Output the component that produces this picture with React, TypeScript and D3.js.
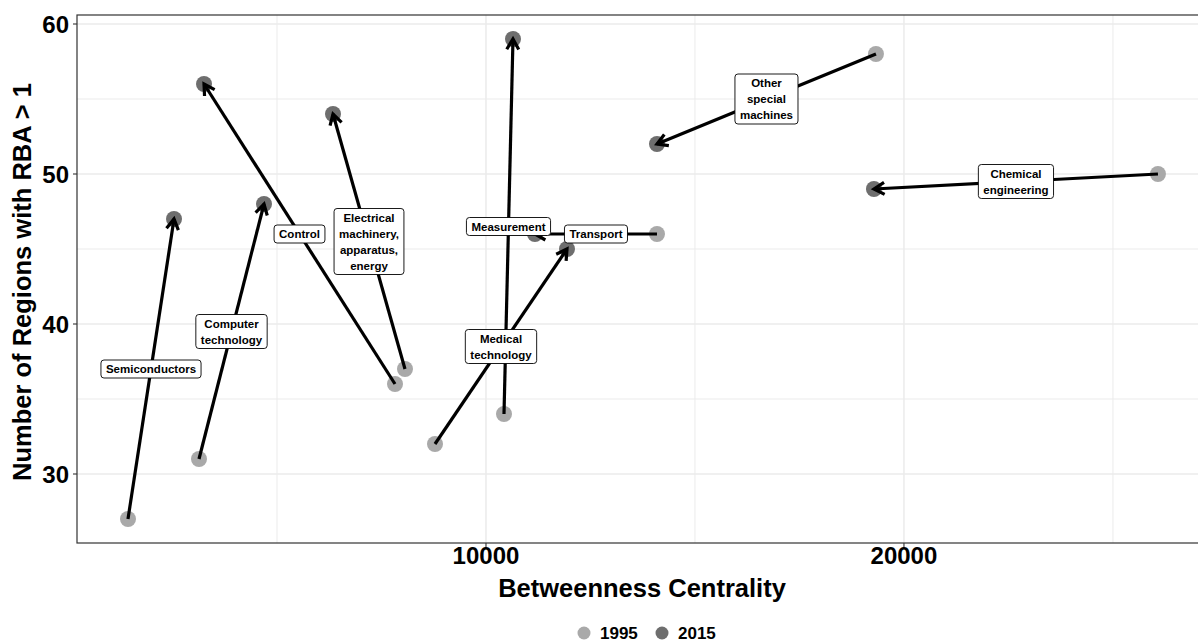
import React from "react";
import * as d3 from "d3";

const categories = [
  "Semiconductors",
  "Computer\ntechnology",
  "Control",
  "Electrical\nmachinery,\napparatus,\nenergy",
  "Medical\ntechnology",
  "Measurement",
  "Transport",
  "Other\nspecial\nmachines",
  "Chemical\nengineering",
];
const bc1995 = [1435, 3134, 7823, 8062, 8780, 10431, 14091, 19330, 26077];
const rba1995 = [27, 31, 36, 37, 32, 34, 46, 58, 50];
const bc2015 = [2536, 4689, 3254, 6340, 11938, 10646, 11172, 14091, 19282];
const rba2015 = [47, 48, 56, 54, 45, 59, 46, 52, 49];
const xTicks = [10000, 20000];
const xMinor = [5000, 15000, 25000];
const yTicks = [30, 40, 50, 60];
const yMinor = [35, 45, 55];
const years = ["1995", "2015"];

const W = 1198;
const H = 641;
const L = 77, R = 1198, T = 15, B = 543;
const C1995 = "#a9a9a9";
const C2015 = "#6e6e6e";
const FONT = "'Liberation Sans', Arial, Helvetica, sans-serif";

let ctx: CanvasRenderingContext2D | null = null;
function measure(t: string, font: string) {
  if (!ctx) ctx = document.createElement("canvas").getContext("2d");
  if (!ctx) return t.length * 6.5;
  ctx.font = font;
  return ctx.measureText(t).width;
}

export default function App() {
  const x = d3.scaleLinear().domain([215, 27035]).range([L, R]);
  const y = d3.scaleLinear().domain([25.4, 60.6]).range([B, T]);
  const labelFont = `bold 11.5px ${FONT}`;

  const items = categories.map((c, i) => ({
    label: c,
    x0: x(bc1995[i]),
    y0: y(rba1995[i]),
    x1: x(bc2015[i]),
    y1: y(rba2015[i]),
  }));

  const arrowHead = (x0: number, y0: number, x1: number, y1: number) => {
    const a = Math.atan2(y1 - y0, x1 - x0);
    const len = 12;
    const da = Math.PI / 6;
    const p1 = [x1 - len * Math.cos(a - da), y1 - len * Math.sin(a - da)];
    const p2 = [x1 - len * Math.cos(a + da), y1 - len * Math.sin(a + da)];
    return `M${p1[0]},${p1[1]}L${x1},${y1}L${p2[0]},${p2[1]}`;
  };

  return (
    <svg width={W} height={H} style={{ display: "block", position: "absolute", left: 0, top: 0 }}>
      <rect x={0} y={0} width={W} height={H} fill="white" />
      {/* grid */}
      {xMinor.map((v) => (
        <line key={"xm" + v} x1={x(v)} x2={x(v)} y1={T} y2={B} stroke="#ebebeb" strokeWidth={1} />
      ))}
      {yMinor.map((v) => (
        <line key={"ym" + v} x1={L} x2={R} y1={y(v)} y2={y(v)} stroke="#ebebeb" strokeWidth={1} />
      ))}
      {xTicks.map((v) => (
        <line key={"xg" + v} x1={x(v)} x2={x(v)} y1={T} y2={B} stroke="#ebebeb" strokeWidth={1.5} />
      ))}
      {yTicks.map((v) => (
        <line key={"yg" + v} x1={L} x2={R} y1={y(v)} y2={y(v)} stroke="#ebebeb" strokeWidth={1.5} />
      ))}
      {/* points */}
      {items.map((d, i) => (
        <g key={"p" + i}>
          <circle cx={d.x0} cy={d.y0} r={8} fill={C1995} />
          <circle cx={d.x1} cy={d.y1} r={8} fill={C2015} />
        </g>
      ))}
      {/* arrows */}
      {items.map((d, i) => (
        <g key={"a" + i} stroke="black" strokeWidth={3.2} fill="none">
          <line x1={d.x0} y1={d.y0} x2={d.x1} y2={d.y1} />
          <path d={arrowHead(d.x0, d.y0, d.x1, d.y1)} strokeLinejoin="miter" />
        </g>
      ))}
      {/* labels */}
      {items.map((d, i) => {
        const lines = d.label.split("\n");
        const w = Math.max(...lines.map((l) => measure(l, labelFont))) + 10;
        const h = lines.length * 16 + 2;
        const cx = (d.x0 + d.x1) / 2;
        const cy = (d.y0 + d.y1) / 2;
        return (
          <g key={"l" + i}>
            <rect x={cx - w / 2} y={cy - h / 2} width={w} height={h} rx={3} fill="white" stroke="black" strokeWidth={0.9} />
            {lines.map((l, j) => (
              <text
                key={j}
                x={cx}
                y={cy - h / 2 + 1 + 16 * j + 12.2}
                textAnchor="middle"
                fontFamily={FONT}
                fontWeight="bold"
                fontSize={11.5}
                fill="black"
              >
                {l}
              </text>
            ))}
          </g>
        );
      })}
      {/* panel border */}
      <rect x={L} y={T} width={R - L + 2} height={B - T} fill="none" stroke="#333333" strokeWidth={1.2} />
      {/* ticks */}
      {xTicks.map((v) => (
        <g key={"xt" + v}>
          <line x1={x(v)} x2={x(v)} y1={B} y2={B + 4} stroke="#333333" strokeWidth={1.1} />
          <text x={x(v)} y={B + 21} textAnchor="middle" fontFamily={FONT} fontWeight="bold" fontSize={24} fill="black">
            {d3.format("d")(v)}
          </text>
        </g>
      ))}
      {yTicks.map((v) => (
        <g key={"yt" + v}>
          <line x1={L - 4} x2={L} y1={y(v)} y2={y(v)} stroke="#333333" strokeWidth={1.1} />
          <text x={L - 8} y={y(v) + 8.6} textAnchor="end" fontFamily={FONT} fontWeight="bold" fontSize={24} fill="black">
            {v}
          </text>
        </g>
      ))}
      {/* axis titles */}
      <text x={642} y={597} textAnchor="middle" fontFamily={FONT} fontWeight="bold" fontSize={25.5} fill="black">
        Betweenness Centrality
      </text>
      <text
        transform={`translate(31,${(T + B) / 2 + 3}) rotate(-90)`}
        textAnchor="middle"
        fontFamily={FONT}
        fontWeight="bold"
        fontSize={25.5}
        fill="black"
      >
        Number of Regions with RBA &gt; 1
      </text>
      {/* legend */}
      <g>
        <circle cx={584} cy={633} r={6.5} fill={C1995} />
        <text x={600} y={639} fontFamily={FONT} fontWeight="bold" fontSize={17} fill="black">
          {years[0]}
        </text>
        <circle cx={662} cy={633} r={6.5} fill={C2015} />
        <text x={678} y={639} fontFamily={FONT} fontWeight="bold" fontSize={17} fill="black">
          {years[1]}
        </text>
      </g>
    </svg>
  );
}
